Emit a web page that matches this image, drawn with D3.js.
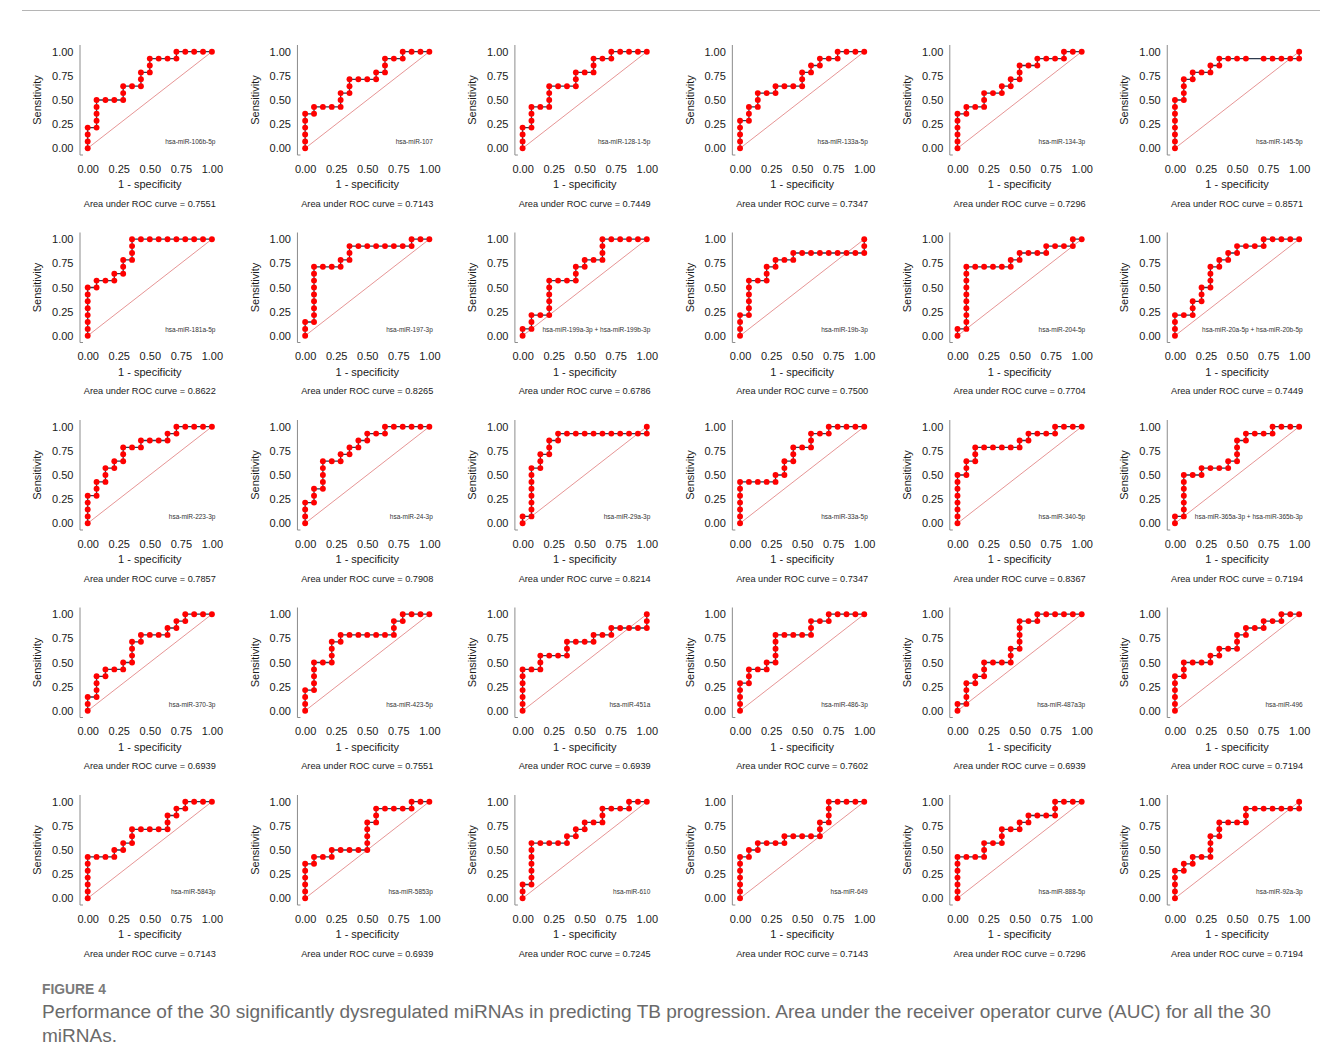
<!DOCTYPE html>
<html>
<head>
<meta charset="utf-8">
<script src="https://cdn.jsdelivr.net/npm/d3@7"></script>
<style>
  body { margin: 0; background: #fff; }
  svg { display: block; }
  text { font-family: "Liberation Sans", Arial, Helvetica, sans-serif; }
</style>
</head>
<body>
<svg id="fig" width="1320" height="1063"></svg>
<script>
// miRNA shown in each panel (row-major, 6 per row)
const markers = [
  "hsa-miR-106b-5p", "hsa-miR-107", "hsa-miR-128-1-5p", "hsa-miR-133a-5p", "hsa-miR-134-3p", "hsa-miR-145-5p",
  "hsa-miR-181a-5p", "hsa-miR-197-3p", "hsa-miR-199a-3p + hsa-miR-199b-3p", "hsa-miR-19b-3p", "hsa-miR-204-5p", "hsa-miR-20a-5p + hsa-miR-20b-5p",
  "hsa-miR-223-3p", "hsa-miR-24-3p", "hsa-miR-29a-3p", "hsa-miR-33a-5p", "hsa-miR-340-5p", "hsa-miR-365a-3p + hsa-miR-365b-3p",
  "hsa-miR-370-3p", "hsa-miR-423-5p", "hsa-miR-451a", "hsa-miR-486-3p", "hsa-miR-487a3p", "hsa-miR-496",
  "hsa-miR-5843p", "hsa-miR-5853p", "hsa-miR-610", "hsa-miR-649", "hsa-miR-888-5p", "hsa-miR-92a-3p"
];

// Area under each ROC curve
const aucValues = [
  0.7551, 0.7143, 0.7449, 0.7347, 0.7296, 0.8571,
  0.8622, 0.8265, 0.6786, 0.7500, 0.7704, 0.7449,
  0.7857, 0.7908, 0.8214, 0.7347, 0.8367, 0.7194,
  0.6939, 0.7551, 0.6939, 0.7602, 0.6939, 0.7194,
  0.7143, 0.6939, 0.7245, 0.7143, 0.7296, 0.7194
];

// ROC paths over a 14 x 14 grid of cases, walked threshold by threshold.
// "U3" = three sensitivity steps, "R2" = two (1 - specificity) steps, one point per step;
// "r2" = a single point two steps to the right.
const rocSteps = [
  "U3R1U4R3U2R2U2R1U2R3U1R4",
  "U5R1U1R3U2R1U2R3U1R1U2R2U1R3",
  "U3R1U3R2U3R3U2R2U2R2U1R4",
  "U4R1U2R1U2R2U1R3U2R1U1R1U1R2U1R3",
  "U5R1U1R2U2R2U1R1U1R1U2R2U1R3U1R2",
  "U7R1U3R1U1R2U1R1U1R3r2R4U1",
  "U7R1U1R2U1R1U2R1U3R9",
  "U2R1U8R3U1R1U2R7U1R2",
  "U1R1U2R2U5R3U2R1U1R2U3R5",
  "U3R1U5R2U2R1U1R2U1R8U2",
  "U1R1U9R5U1R1U1R3U1R3U1R1",
  "U3R2U2R1U2R1U3R1U1R1U1R1U1R3U1R4",
  "U4R1U2R1U2R1U1R1U2R2U1R3U1R1U1R4",
  "U3R1U2R1U4R2U1R1U1R1U1R1U1R2U1R5",
  "U1R1U7R1U2R1U2R1U1R10U1",
  "U6R4U1R1U2R1U2R2U2R2U1R4",
  "U7R1U2R1U2R5U1R1U1R3U1R3",
  "U1R1U6R2U1R3U1R1U3R1U1R3U1R3",
  "U2R1U3R1U1R2U1R1U3R1U1R3U1R1U1R1U1R3",
  "U3R1U4R2U3R1U1R6U2R1U1R3",
  "U6R2U2R3U2R3U1R2U1R4U2",
  "U4R1U2R2U1R1U4R4U2R2U1R4",
  "U1R1U3R1U1R1U2R3U2R1U4R2U1R5",
  "U5R1U2R3U1R1U1R2U2R1U1R2U1R2U1R2",
  "U6R3U1R1U1R1U2R4U2R1U1R1U1R3",
  "U5R1U1R2U1R4U4R1U2R4U1R2",
  "U2R1U6R4U1R1U1R1U1R2U2R3U1R2",
  "U6R1U1R1U1R3U1R4U2R1U3R4",
  "U6R3U2R2U2R2U1R1U1R3U2R3",
  "U4R1U1R1U1R2U3R1U2R3U2R6U1"
];

const tickValues = [0, 0.25, 0.5, 0.75, 1];
const gridSize = 14;

const xTitle = "1 - specificity";
const yTitle = "Sensitivity";
const captionLabel = "FIGURE 4";
const captionLines = [
  "Performance of the 30 significantly dysregulated miRNAs in predicting TB progression. Area under the receiver operator curve (AUC) for all the 30",
  "miRNAs."
];

// Turn a step string into [fpr, tpr] points
function rocPoints(code) {
  const pts = [[0, 0]];
  let x = 0, y = 0;
  const re = /([URur])(\d+)/g;
  let m;
  while ((m = re.exec(code))) {
    const n = +m[2];
    if (m[1] === "U") { for (let i = 0; i < n; i++) { y++; pts.push([x, y]); } }
    else if (m[1] === "R") { for (let i = 0; i < n; i++) { x++; pts.push([x, y]); } }
    else if (m[1] === "r") { x += n; pts.push([x, y]); }
    else { y += n; pts.push([x, y]); }
  }
  return pts.map(([a, b]) => [a / gridSize, b / gridSize]);
}

const svg = d3.select("#fig");
svg.append("rect").attr("width", 1320).attr("height", 1063).attr("fill", "#fff");

// thin rule across the top of the figure
svg.append("line")
  .attr("x1", 22).attr("x2", 1320).attr("y1", 10.5).attr("y2", 10.5)
  .attr("stroke", "#b5b5b5").attr("stroke-width", 1);

// panel geometry
const nCols = 6;
const colStep = 217.45, rowStep = 187.5;
const plotLeft0 = 87.7, plotW = 124.2;
const plotBottom0 = 148.3, plotH = 96.6;
const pad = 6.7;
const fmt = d3.format(".2f");

markers.forEach((name, i) => {
  const c = i % nCols, r = Math.floor(i / nCols);
  const x0 = plotLeft0 + c * colStep;
  const yb = plotBottom0 + r * rowStep;
  const x = d3.scaleLinear().domain([0, 1]).range([x0, x0 + plotW]);
  const y = d3.scaleLinear().domain([0, 1]).range([yb, yb - plotH]);
  const g = svg.append("g").attr("class", "panel");

  // axis frame: left line with a short foot
  const axX = x0 - pad - 1;
  g.append("path")
    .attr("d", `M${axX},${y(1) - pad}V${yb + pad}H${axX + 3}`)
    .attr("fill", "none").attr("stroke", "#8c8c8c").attr("stroke-width", 1);

  // y axis tick labels
  const yAxis = d3.axisLeft(y).tickValues(tickValues).tickFormat(fmt).tickSize(0).tickPadding(6.5);
  const ga = g.append("g").attr("transform", `translate(${axX},0)`).call(yAxis);
  ga.select(".domain").remove();
  ga.selectAll("text").attr("font-size", 11).attr("fill", "#1a1a1a")
    .attr("font-family", '"Liberation Sans", Arial, sans-serif');

  // x axis tick labels
  const xAxis = d3.axisBottom(x).tickValues(tickValues).tickFormat(fmt).tickSize(0).tickPadding(9.8);
  const gx = g.append("g").attr("transform", `translate(0,${yb + pad})`).call(xAxis);
  gx.select(".domain").remove();
  gx.selectAll("text").attr("font-size", 11).attr("fill", "#1a1a1a")
    .attr("font-family", '"Liberation Sans", Arial, sans-serif');

  // axis titles
  g.append("text")
    .attr("x", (x(0) + x(1)) / 2).attr("y", yb + 39.8)
    .attr("text-anchor", "middle").attr("font-size", 11).attr("fill", "#1a1a1a")
    .text(xTitle);
  g.append("text")
    .attr("transform", `translate(${x0 - 46.5},${(y(0) + y(1)) / 2}) rotate(-90)`)
    .attr("text-anchor", "middle").attr("font-size", 11).attr("fill", "#1a1a1a")
    .text(yTitle);

  // chance diagonal
  g.append("line")
    .attr("x1", x(0)).attr("y1", y(0)).attr("x2", x(1)).attr("y2", y(1))
    .attr("stroke", "#e07a7a").attr("stroke-width", 0.8);

  // miRNA name
  g.append("text")
    .attr("x", x(1) + 3.5).attr("y", yb - 4)
    .attr("text-anchor", "end").attr("font-size", 6.5).attr("fill", "#333")
    .text(name);

  // ROC curve: connecting line, then one dot per threshold
  const pts = rocPoints(rocSteps[i]);
  g.append("path")
    .datum(pts)
    .attr("d", d3.line().x(d => x(d[0])).y(d => y(d[1])))
    .attr("fill", "none").attr("stroke", "#2e3b4e").attr("stroke-width", 1.3);
  g.selectAll("circle.pt").data(pts).join("circle")
    .attr("class", "pt")
    .attr("cx", d => x(d[0])).attr("cy", d => y(d[1]))
    .attr("r", 2.95).attr("fill", "#ff0000");

  // AUC caption
  g.append("text")
    .attr("x", (x(0) + x(1)) / 2).attr("y", yb + 58.2)
    .attr("text-anchor", "middle").attr("font-size", 9.2).attr("fill", "#1a1a1a")
    .text("Area under ROC curve = " + aucValues[i].toFixed(4));
});

// figure caption
const lab = svg.append("text")
  .attr("x", 42).attr("y", 994)
  .attr("font-family", '"Liberation Sans Narrow", "Roboto", sans-serif')
  .attr("font-weight", "bold").attr("font-size", 13).attr("fill", "#7a7a7a")
  .text(captionLabel);
const labW = lab.node().getComputedTextLength();
if (labW > 0) lab.attr("font-size", 13 * 64 / labW);

const cap = svg.append("g")
  .attr("font-family", 'Lato, "Open Sans", sans-serif')
  .attr("font-weight", 300).attr("fill", "#6a6a6a");
const line1 = cap.append("text").attr("x", 42).attr("y", 1018).attr("font-size", 18).text(captionLines[0]);
const w1 = line1.node().getComputedTextLength();
const capSize = w1 > 0 ? 18 * 1230 / w1 : 18;
line1.attr("font-size", capSize);
cap.append("text").attr("x", 42).attr("y", 1042).attr("font-size", capSize).text(captionLines[1]);
</script>
</body>
</html>
